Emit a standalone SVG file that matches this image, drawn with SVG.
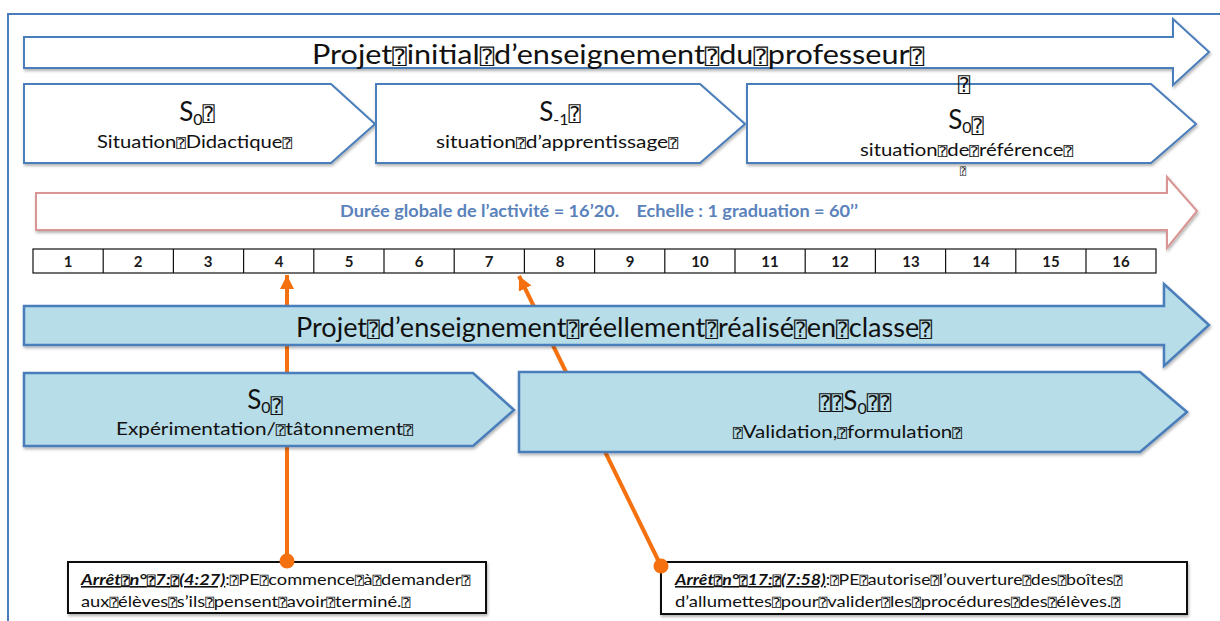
<svg xmlns="http://www.w3.org/2000/svg" width="1220" height="621" viewBox="0 0 1220 621">
<style>
text{font-family:Lato,"Open Sans","Liberation Sans",sans-serif;fill:#111}
.q{font-family:"DejaVu Sans Mono","DejaVu Sans",monospace;font-size:78%}
.w{fill:#fff;stroke:#4a7ebb;stroke-width:2}
.b{fill:#b7dde8;stroke:#4a7ebb;stroke-width:2.5}
.big{font-size:27px}
.s{font-size:26px;text-anchor:middle}
.sm{font-size:17px}
.num{font-size:15px;font-weight:bold;text-anchor:middle;fill:#1a1a1a}
.call{font-size:16px}
.cell{fill:none;stroke:#111;stroke-width:1.2}
.con{stroke:#f5700f;stroke-width:4;fill:none}
</style>
<defs>
<filter id="sh" x="-5%" y="-20%" width="110%" height="150%"><feDropShadow dx="1" dy="2" stdDeviation="1.5" flood-color="#000" flood-opacity="0.3"/></filter>
<marker id="ah" markerUnits="userSpaceOnUse" markerWidth="16" markerHeight="16" refX="14" refY="7" orient="auto"><path d="M0,0 L14,7 L0,14 z" fill="#f5700f"/></marker>
</defs>
<rect width="1220" height="621" fill="#fff"/>
<path d="M8,640 V14 H1230" fill="none" stroke="#4a7ebb" stroke-width="2"/>

<g id="projet-initial">
<polygon class="w" filter="url(#sh)" points="24,37 1173,37 1173,19 1209,52 1173,85 1173,68 24,68"/>
<text class="big" x="312" y="64" textLength="612" lengthAdjust="spacingAndGlyphs">Projet<tspan class="q">⍰</tspan>initial<tspan class="q">⍰</tspan>d’enseignement<tspan class="q">⍰</tspan>du<tspan class="q">⍰</tspan>professeur<tspan class="q">⍰</tspan></text>
</g>

<g id="s0-didactique">
<polygon class="w" filter="url(#sh)" points="24,84 331,84 375,124 331,163 24,163"/>
<text class="s" x="197" y="121">S<tspan font-size="16" dy="4">0</tspan><tspan class="q" dy="-4">⍰</tspan></text>
<text class="sm" x="97" y="148" textLength="195" lengthAdjust="spacingAndGlyphs">Situation<tspan class="q">⍰</tspan>Didactique<tspan class="q">⍰</tspan></text>
</g>

<g id="s-1-apprentissage">
<polygon class="w" filter="url(#sh)" points="376,84 700,84 745,124 700,163 376,163"/>
<text class="s" x="560" y="121">S<tspan font-size="16" dy="4">-1</tspan><tspan class="q" dy="-4">⍰</tspan></text>
<text class="sm" x="436" y="148" textLength="242" lengthAdjust="spacingAndGlyphs">situation<tspan class="q">⍰</tspan>d’apprentissage<tspan class="q">⍰</tspan></text>
</g>

<g id="s0-reference">
<polygon class="w" filter="url(#sh)" points="747,84 1151,84 1196,124 1151,163 747,163"/>
<text class="s" x="964" y="92"><tspan class="q">⍰</tspan></text>
<text class="s" x="966" y="129">S<tspan font-size="16" dy="4">0</tspan><tspan class="q" font-size="12">⍰</tspan></text>
<text class="sm" x="860" y="156" textLength="213" lengthAdjust="spacingAndGlyphs">situation<tspan class="q">⍰</tspan>de<tspan class="q">⍰</tspan>référence<tspan class="q">⍰</tspan></text>
<text x="963" y="175" font-size="13" text-anchor="middle"><tspan class="q">⍰</tspan></text>
</g>

<g id="duree">
<polygon filter="url(#sh)" fill="#fff" stroke="#d99594" stroke-width="2" points="36,193 1167,193 1167,177 1197,211 1167,248 1167,230 36,230"/>
<text x="340" y="217" font-size="17" font-weight="bold" style="fill:#5a82bb" xml:space="preserve" textLength="518" lengthAdjust="spacingAndGlyphs">Durée globale de l’activité = 16’20.    Echelle : 1 graduation = 60’’</text>
</g>

<g id="echelle">
<rect class="cell" x="33" y="249" width="1123" height="24"/>
<path class="cell" d="M103.2,249V273M173.4,249V273M243.6,249V273M313.8,249V273M384,249V273M454.2,249V273M524.4,249V273M594.6,249V273M664.8,249V273M735,249V273M805.2,249V273M875.4,249V273M945.6,249V273M1015.8,249V273M1086,249V273"/>
<text class="num" y="267"><tspan x="68">1</tspan><tspan x="138">2</tspan><tspan x="208">3</tspan><tspan x="279">4</tspan><tspan x="349">5</tspan><tspan x="419">6</tspan><tspan x="489">7</tspan><tspan x="560">8</tspan><tspan x="630">9</tspan><tspan x="700">10</tspan><tspan x="770">11</tspan><tspan x="840">12</tspan><tspan x="911">13</tspan><tspan x="981">14</tspan><tspan x="1051">15</tspan><tspan x="1121">16</tspan></text>
</g>

<g id="arret7">
<rect x="68" y="562" width="418" height="51" fill="#fff" stroke="#111" stroke-width="2" filter="url(#sh)"/>
<text class="call" x="81" y="585" textLength="389" lengthAdjust="spacingAndGlyphs"><tspan font-weight="bold" font-style="italic" text-decoration="underline">Arrêt<tspan class="q">⍰</tspan>n°<tspan class="q">⍰</tspan>7:<tspan class="q">⍰</tspan>(4:27)</tspan>:<tspan class="q">⍰</tspan>PE<tspan class="q">⍰</tspan>commence<tspan class="q">⍰</tspan>à<tspan class="q">⍰</tspan>demander<tspan class="q">⍰</tspan></text>
<text class="call" x="81" y="607" textLength="329" lengthAdjust="spacingAndGlyphs">aux<tspan class="q">⍰</tspan>élèves<tspan class="q">⍰</tspan>s’ils<tspan class="q">⍰</tspan>pensent<tspan class="q">⍰</tspan>avoir<tspan class="q">⍰</tspan>terminé.<tspan class="q">⍰</tspan></text>
</g>

<g id="arret17">
<rect x="661" y="562" width="526" height="52" fill="#fff" stroke="#111" stroke-width="2" filter="url(#sh)"/>
<text class="call" x="675" y="585" textLength="447" lengthAdjust="spacingAndGlyphs"><tspan font-weight="bold" font-style="italic" text-decoration="underline">Arrêt<tspan class="q">⍰</tspan>n°<tspan class="q">⍰</tspan>17:<tspan class="q">⍰</tspan>(7:58)</tspan>:<tspan class="q">⍰</tspan>PE<tspan class="q">⍰</tspan>autorise<tspan class="q">⍰</tspan>l’ouverture<tspan class="q">⍰</tspan>des<tspan class="q">⍰</tspan>boîtes<tspan class="q">⍰</tspan></text>
<text class="call" x="675" y="607" textLength="445" lengthAdjust="spacingAndGlyphs">d’allumettes<tspan class="q">⍰</tspan>pour<tspan class="q">⍰</tspan>valider<tspan class="q">⍰</tspan>les<tspan class="q">⍰</tspan>procédures<tspan class="q">⍰</tspan>des<tspan class="q">⍰</tspan>élèves.<tspan class="q">⍰</tspan></text>
</g>

<g id="connectors">
<line class="con" x1="287" y1="561" x2="287" y2="275" marker-end="url(#ah)"/>
<line class="con" x1="661" y1="566" x2="519" y2="276" marker-end="url(#ah)"/>
<circle cx="287" cy="561" r="7.5" fill="#f5700f"/>
<circle cx="661" cy="566" r="7.5" fill="#f5700f"/>
</g>

<g id="projet-realise">
<polygon class="b" filter="url(#sh)" points="24,306 1164,306 1164,284 1209,325 1164,366 1164,345 24,345"/>
<text class="big" x="296" y="337" textLength="636" lengthAdjust="spacingAndGlyphs">Projet<tspan class="q">⍰</tspan>d’enseignement<tspan class="q">⍰</tspan>réellement<tspan class="q">⍰</tspan>réalisé<tspan class="q">⍰</tspan>en<tspan class="q">⍰</tspan>classe<tspan class="q">⍰</tspan></text>
</g>

<g id="s0-experimentation">
<polygon class="b" filter="url(#sh)" points="24,373 473,373 514,410 473,446 24,446"/>
<text class="s" x="265" y="409">S<tspan font-size="16" dy="4">0</tspan><tspan class="q" font-size="12">⍰</tspan></text>
<text class="sm" x="116" y="435" textLength="297" lengthAdjust="spacingAndGlyphs">Expérimentation/<tspan class="q">⍰</tspan>tâtonnement<tspan class="q">⍰</tspan></text>
</g>

<g id="s0-validation">
<polygon class="b" filter="url(#sh)" points="519,372 1140,372 1187,412 1140,452 519,452"/>
<text class="s" x="855" y="410"><tspan class="q">⍰⍰</tspan>S<tspan font-size="16" dy="4">0</tspan><tspan class="q" dy="-4">⍰⍰</tspan></text>
<text class="sm" x="733" y="438" textLength="229" lengthAdjust="spacingAndGlyphs"><tspan class="q">⍰</tspan>Validation,<tspan class="q">⍰</tspan>formulation<tspan class="q">⍰</tspan></text>
</g>
</svg>
